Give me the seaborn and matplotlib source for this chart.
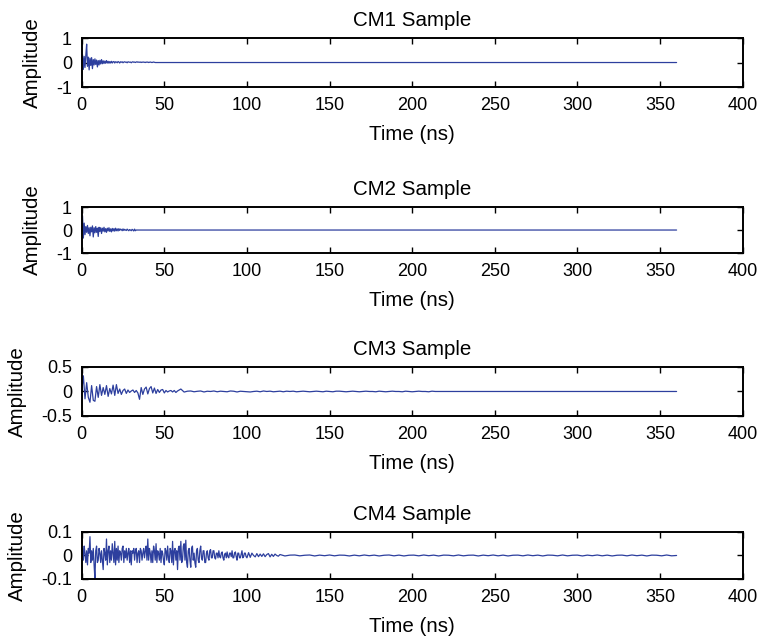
import numpy as np
import matplotlib
matplotlib.use("Agg")
import matplotlib.pyplot as plt
import seaborn as sns

# ---- data ----
titles = ["CM1 Sample", "CM2 Sample", "CM3 Sample", "CM4 Sample"]
x_ticks = [0, 50, 100, 150, 200, 250, 300, 350, 400]
y_ticks = [[-1, 0, 1], [-1, 0, 1], [-0.5, 0, 0.5], [-0.1, 0, 0.1]]
y_ticklabels = [["-1", "0", "1"], ["-1", "0", "1"], ["-0.5", "0", "0.5"], ["-0.1", "0", "0.1"]]
t_end = 360.0

# CM1: 0.5 ns samples from 0 ns, then zero until 360 ns
cm1 = [0.0, 0.32, -0.28, 0.25, -0.2, 0.3, 0.75, -0.15, 0.22, -0.3, 0.18, -0.12, 0.2, -0.25,
       0.12, -0.1, 0.15, -0.08, 0.1, -0.18, 0.08, -0.1, 0.09, -0.06, 0.12, -0.05, 0.07, -0.04,
       0.06, -0.03, 0.08, -0.02, 0.05, -0.03, 0.04, -0.02, 0.05, -0.02, 0.03, 0.04, -0.02, 0.03,
       0.02, -0.01, 0.04, 0.02, -0.02, 0.03, 0.01, 0.03, -0.01, 0.02, 0.03, 0.01, 0.02, -0.01,
       0.03, 0.02, 0.01, 0.02, -0.01, 0.02, 0.03, 0.01, 0.02, 0.0, 0.02, 0.03, 0.01, 0.02, 0.01,
       0.02, 0.0, 0.02, 0.01, 0.02, 0.01, 0.0, 0.02, 0.01, 0.02, 0.0, 0.01, 0.02, 0.01, 0.0,
       0.01, 0.02, 0.01, 0.0, 0.0]

# CM2: 0.5 ns samples
cm2 = [0.0, 0.62, -0.35, 0.3, -0.2, 0.15, -0.1, 0.2, -0.15, 0.1, -0.25, 0.12, -0.08, 0.18,
       -0.3, 0.1, -0.12, 0.15, -0.1, 0.08, -0.28, 0.12, -0.06, 0.1, -0.15, 0.08, -0.05, 0.12,
       -0.08, 0.06, -0.1, 0.08, -0.04, 0.1, -0.06, 0.05, -0.08, 0.07, -0.04, 0.06, -0.05, 0.08,
       -0.03, 0.05, -0.04, 0.06, -0.02, 0.04, 0.02, -0.03, 0.05, -0.02, 0.03, 0.0, -0.02, 0.04,
       0.0, -0.03, 0.02, 0.0, -0.03, 0.03, 0.0, -0.04, 0.04, -0.03, 0.0]

# CM3: 1 ns samples 0..60, then 2 ns samples to ~215 ns
cm3_a = [0.0, 0.32, -0.15, 0.18, -0.12, -0.22, 0.12, -0.18, -0.2, 0.1, -0.12, 0.14, -0.08,
         0.08, -0.06, 0.12, -0.1, 0.06, -0.05, 0.13, -0.08, 0.14, -0.04, 0.05, -0.06, 0.02,
         0.05, -0.04, 0.03, -0.02, 0.01, 0.03, -0.02, 0.02, -0.03, -0.16, 0.08, -0.06, 0.05,
         0.09, -0.05, 0.06, 0.1, -0.03, 0.07, -0.04, 0.04, -0.02, 0.03, 0.04, -0.03, 0.02,
         -0.01, 0.01, 0.02, -0.01, 0.02, -0.02, 0.01, 0.03, 0.05]
cm3_b = [-0.012, 0.006, 0.01, -0.006, 0.004, 0.01, -0.01, 0.005, 0.0, 0.01, -0.006, 0.006,
         0.0, -0.006, 0.01, 0.005, -0.01, 0.005, 0.0, -0.006, -0.01, 0.0, 0.006, -0.006, 0.01,
         0.0, 0.006, -0.006, 0.0, 0.006, -0.006, 0.006, 0.0, 0.006, -0.006, 0.0, 0.006, 0.0,
         -0.006, 0.0, 0.006, 0.0, -0.006, 0.006, 0.0, -0.006, 0.006, 0.006, 0.0, -0.006, 0.0,
         0.006, 0.0, -0.006, 0.0, 0.006, 0.0, 0.0, -0.006, 0.006, 0.0, -0.006, 0.0, 0.006, 0.0,
         0.0, -0.006, 0.006, 0.0, -0.006, 0.0, 0.006, 0.0, 0.0, -0.006, 0.006, 0.0]

# CM4: 0.5 ns samples 0..100, 1 ns samples 100..120, then 3 ns samples to 360
cm4_a = [0.0, 0.03, -0.02, 0.04, 0.01, -0.03, 0.02, -0.04, 0.03, 0.01,
         0.08, -0.03, 0.02, -0.02, 0.03, -0.04, -0.1, 0.02, 0.04, -0.03,
         -0.02, 0.03, 0.01, -0.03, 0.02, -0.02, -0.06, 0.03, 0.01, -0.02,
         0.07, -0.04, 0.02, 0.04, -0.03, 0.02, -0.02, 0.05, 0.01, -0.03,
         0.06, -0.04, 0.03, -0.02, 0.04, -0.03, 0.02, 0.01, -0.02, 0.03,
         0.04, -0.03, 0.02, -0.01, 0.03, -0.02, 0.01, 0.03, -0.03, 0.02,
         -0.04, 0.02, 0.01, 0.03, -0.02, 0.02, 0.03, -0.03, 0.01, 0.02,
         -0.03, 0.03, 0.02, -0.02, 0.01, 0.03, -0.01, 0.02, 0.04, -0.02,
         0.07, -0.02, 0.03, 0.01, -0.03, 0.02, -0.03, 0.04, 0.02, -0.02,
         0.05, -0.03, 0.02, 0.01, -0.02, 0.03, -0.03, 0.02, 0.01, -0.02,
         -0.04, 0.03, 0.02, -0.02, 0.04, -0.01, -0.03, 0.03, 0.02, -0.03,
         0.06, -0.04, 0.02, 0.03, -0.02, 0.02, -0.06, 0.03, 0.04, -0.02,
         0.06, -0.03, -0.02, 0.04, 0.05, -0.02, 0.065, -0.03, -0.05, 0.02,
         0.03, -0.02, -0.05, 0.03, 0.04, -0.02, 0.01, -0.03, -0.05, 0.02,
         0.03, -0.02, -0.03, 0.02, 0.04, -0.01, -0.02, 0.02, 0.02, -0.03,
         -0.03, 0.01, 0.02, -0.01, -0.02, 0.02, 0.025, -0.01, -0.01, 0.02,
         0.02, -0.01, -0.015, 0.01, 0.01, -0.01, 0.02, -0.005, -0.01, 0.01,
         0.015, -0.01, -0.02, 0.005, 0.01, -0.01, 0.015, -0.005, -0.01, 0.01,
         0.01, -0.005, 0.02, -0.01, -0.01, 0.01, 0.015, -0.005, -0.02, 0.01,
         0.01, -0.01, -0.01, 0.005, 0.02, -0.01, -0.005, 0.01, 0.01, -0.005]
cm4_b = [-0.01, 0.012, -0.008, 0.01, 0.0, -0.006, 0.008, -0.005, 0.006, -0.004, 0.007,
         -0.005, 0.004, 0.008, -0.006, 0.005, -0.004, 0.006, 0.0, -0.003, 0.004]
cm4_c = [-0.002, 0.0015, 0.002, -0.0015, 0.001, 0.002, -0.002, 0.0015, -0.001, 0.002,
         -0.0015, 0.0015, 0.001, -0.002, 0.0015, -0.0015, 0.002, -0.001, 0.0015, -0.002,
         0.001, 0.002, -0.0015, 0.0015, -0.002, 0.001, 0.0015, -0.0015, 0.002, -0.001,
         0.0015, -0.002, 0.0015, 0.001, -0.0015, 0.002, -0.0015, 0.001, 0.0015, -0.002,
         0.0015, -0.001, 0.002, -0.0015, 0.0015, -0.002, 0.001, 0.0015, -0.0015, 0.002,
         -0.001, 0.0015, -0.002, 0.0015, 0.001, -0.0015, 0.002, -0.0015, 0.001, 0.0015,
         -0.002, 0.0015, -0.001, 0.002, -0.0015, 0.0015, -0.002, 0.001, 0.0015, -0.0015,
         0.002, -0.001, 0.0015, -0.002, 0.0015, 0.001, -0.0015, 0.002, -0.0015, 0.0]

# ---- assemble time axes ----
t1 = np.arange(len(cm1)) * 0.5
x1 = np.append(t1, t_end); y1 = np.append(cm1, 0.0)
t2 = np.arange(len(cm2)) * 0.5
x2 = np.append(t2, t_end); y2 = np.append(cm2, 0.0)
t3a = np.arange(len(cm3_a)) * 1.0
t3b = t3a[-1] + 2.0 * (np.arange(len(cm3_b)) + 1)
x3 = np.concatenate([t3a, t3b, [t_end]]); y3 = np.concatenate([cm3_a, cm3_b, [0.0]])
t4a = np.arange(len(cm4_a)) * 0.5
t4b = t4a[-1] + 0.5 + np.arange(len(cm4_b)) * 1.0
t4c = np.linspace(t4b[-1] + 3.0, t_end, len(cm4_c))
x4 = np.concatenate([t4a, t4b, t4c]); y4 = np.concatenate([cm4_a, cm4_b, cm4_c])
series = [(x1, y1), (x2, y2), (x3, y3), (x4, y4)]

# ---- style ----
sns.set_theme(style="ticks")
plt.rcParams["font.family"] = ["Liberation Sans", "DejaVu Sans"]
plt.rcParams["axes.unicode_minus"] = False
plt.rcParams["text.color"] = "black"
plt.rcParams["axes.labelcolor"] = "black"

fig = plt.figure(figsize=(7.6, 6.38), dpi=100)
rects = [
    (0.1075, 0.8636, 0.8697, 0.0768),
    (0.1075, 0.6034, 0.8697, 0.0721),
    (0.1075, 0.3480, 0.8697, 0.0768),
    (0.1075, 0.0925, 0.8697, 0.0737),
]
line_color = "#2d3f9e"
for i, rect in enumerate(rects):
    ax = fig.add_axes(rect)
    x, y = series[i]
    sns.lineplot(x=x, y=y, ax=ax, color=line_color, linewidth=0.9, estimator=None, sort=False)
    ax.set_xlim(0, 400)
    ax.set_ylim(y_ticks[i][0], y_ticks[i][-1])
    ax.set_xticks(x_ticks)
    ax.set_xticklabels([str(v) for v in x_ticks])
    ax.set_yticks(y_ticks[i])
    ax.set_yticklabels(y_ticklabels[i])
    ax.tick_params(direction="in", top=True, right=True, length=4, width=1.0,
                   labelsize=13, colors="black", pad=7)
    for sp in ax.spines.values():
        sp.set_visible(True)
        sp.set_linewidth(1.4)
        sp.set_color("black")
    ax.set_title(titles[i], fontsize=14.8, pad=8.5, color="black")
    ax.set_xlabel("Time (ns)", fontsize=14.8, labelpad=8)
    ax.set_ylabel("Amplitude", fontsize=14.8, labelpad=10)

fig.savefig("out.png", dpi=100)
